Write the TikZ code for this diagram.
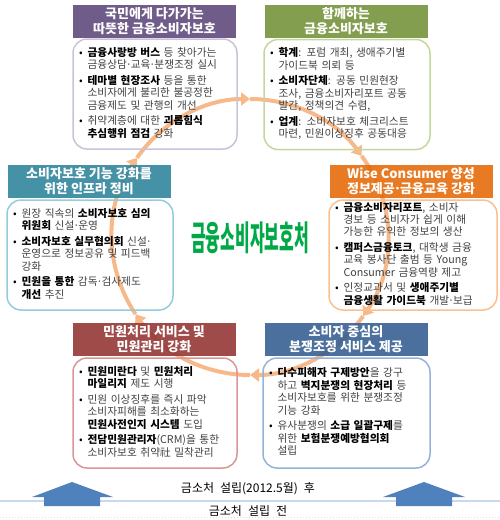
\documentclass[tikz,border=0pt]{standalone}
\usepackage{fontspec}
\usepackage{graphicx}
\usepackage{xcolor}
\setmainfont{Noto Sans CJK KR}
\usepackage{tikz}
\usetikzlibrary{arrows.meta}
\definecolor{hdpurple}{HTML}{604A7B}
\definecolor{hdgreen}{HTML}{77933C}
\definecolor{hdteal}{HTML}{31859C}
\definecolor{hdorange}{HTML}{E46C0A}
\definecolor{hdred}{HTML}{953735}
\definecolor{hdblue}{HTML}{376092}
\definecolor{lnpurple}{HTML}{CCC1DA}
\definecolor{lngreen}{HTML}{C3D69B}
\definecolor{lnteal}{HTML}{93CDDD}
\definecolor{lnorange}{HTML}{FAC090}
\definecolor{lnred}{HTML}{D99694}
\definecolor{lnblue}{HTML}{95B3D7}
\definecolor{ringorange}{HTML}{F7B989}
\definecolor{arrowblue}{HTML}{4F81BD}
\definecolor{baseblue}{HTML}{C6D9F1}
\definecolor{titlegreen}{HTML}{00A846}
\definecolor{txtgray}{HTML}{404040}
\newcommand{\kw}[1]{\textcolor{black}{\textbf{#1}}}
\newcommand{\bul}{\textcolor{black}{•}}
\newcommand{\md}{\kern-0.1em·\kern-0.1em}

\begin{document}
\begin{tikzpicture}[x=1pt, y=-1pt,
            head/.style={rectangle, fill=#1, fill opacity=0.9, text opacity=1, text=white, minimum width=163pt, minimum height=33pt, inner sep=0pt, align=center, font=\fontsize{13}{15.5}\selectfont\bfseries},
            card/.style 2 args={rectangle, rounded corners=14pt, draw=#1, line width=1.5pt, text width=#2, minimum height=110pt, inner xsep=6pt, inner ysep=0pt, text=txtgray, align=left, font=\fontsize{10.7}{11.8}\selectfont},
            ring/.style={draw=ringorange, line width=4pt, -{Triangle[length=9pt, width=13pt]}},
            era/.style={inner sep=0pt, text=black, font=\fontsize{12}{14}\selectfont}]
            \useasboundingbox (0,0) rectangle (500,520);
            \foreach \a/\b in {-145/-90, -90/-36, -36/35, 35/90, 90/146, 146/215}
                \draw[ring] (250,237) ++(\a:138) arc[start angle=\a, end angle=\b, radius=138];
            \node[text=titlegreen, inner sep=0pt, font=\fontsize{34}{34}\selectfont\bfseries] (title) at (250,238) {\scalebox{0.47}[1]{금융소비자보호처}};

            \node[head=hdpurple] (h1) at (154.5,21) {국민에게 다가가는\\따뜻한 금융소비자보호};
            \node[card={lnpurple}{152pt}] (c1) at (155,94) {\begin{tabular}{@{}l@{\hspace{5pt}}l@{}}
                \bul & \kw{금융사랑방 버스} 등 찾아가는\\
                & 금융상담\md 교육\md 분쟁조정 실시\\[3pt]
                \bul & \kw{테마별 현장조사} 등을 통한\\
                & 소비자에게 불리한 불공정한\\
                & 금융제도 및 관행의 개선\\[3pt]
                \bul & 취약계층에 대한 \kw{괴롭힘식}\\
                & \kw{추심행위 점검} 강화
            \end{tabular}};

            \node[head=hdgreen] (h2) at (346,21) {함께하는\\금융소비자보호};
            \node[card={lngreen}{154pt}] (c2) at (347,94.5) {\begin{tabular}{@{}l@{\hspace{5pt}}l@{}}
                \bul & \kw{학계}: 포럼 개최, 생애주기별\\
                & 가이드북 의뢰 등\\[3pt]
                \bul & \kw{소비자단체}: 공동 민원현장\\
                & 조사, 금융소비자리포트 공동\\
                & 발간, 정책의견 수렴,\\[3pt]
                \bul & \kw{업계}: 소비자보호 체크리스트\\
                & 마련, 민원이상징후 공동대응
            \end{tabular}};

            \node[head=hdteal] (h3) at (89,181) {소비자보호 기능 강화를\\위한 인프라 정비};
            \node[card={lnteal}{154pt}] (c3) at (90,255) {\begin{tabular}{@{}l@{\hspace{5pt}}l@{}}
                \bul & 원장 직속의 \kw{소비자보호 심의}\\
                & \kw{위원회} 신설\md 운영\\[3pt]
                \bul & \kw{소비자보호 실무협의회} 신설\md\\
                & 운영으로 정보공유 및 피드백\\
                & 강화\\[3pt]
                \bul & \kw{민원을 통한} 감독\md 검사제도\\
                & \kw{개선} 추진
            \end{tabular}};

            \node[head=hdorange] (h4) at (411,181) {Wise Consumer 양성\\정보제공\md 금융교육 강화};
            \node[card={lnorange}{156pt}] (c4) at (413,255) {\begin{tabular}{@{}l@{\hspace{5pt}}l@{}}
                \bul & \kw{금융소비자리포트}, 소비자\\
                & 경보 등 소비자가 쉽게 이해\\
                & 가능한 유익한 정보의 생산\\[3pt]
                \bul & \kw{캠퍼스금융토크}, 대학생 금융\\
                & 교육 봉사단 출범 등 Young\\
                & Consumer 금융역량 제고\\[3pt]
                \bul & 인정교과서 및 \kw{생애주기별}\\
                & \kw{금융생활 가이드북} 개발\md 보급
            \end{tabular}};

            \node[head=hdred] (h5) at (154,339) {민원처리 서비스 및\\민원관리 강화};
            \node[card={lnred}{152pt}] (c5) at (155,413) {\begin{tabular}{@{}l@{\hspace{5pt}}l@{}}
                \bul & \kw{민원미란다} 및 \kw{민원처리}\\
                & \kw{마일리지} 제도 시행\\[3pt]
                \bul & 민원 이상징후를 즉시 파악\\
                & 소비자피해를 최소화하는\\
                & \kw{민원사전인지 시스템} 도입\\[3pt]
                \bul & \kw{전담민원관리자}(CRM)을 통한\\
                & 소비자보호 취약社 밀착관리
            \end{tabular}};

            \node[head=hdblue] (h6) at (346,339) {소비자 중심의\\분쟁조정 서비스 제공};
            \node[card={lnblue}{155pt}] (c6) at (346.5,413) {\begin{tabular}{@{}l@{\hspace{5pt}}l@{}}
                \bul & \kw{다수피해자 구제방안}을 강구\\
                & 하고 \kw{벽지분쟁의 현장처리} 등\\
                & 소비자보호를 위한 분쟁조정\\
                & 기능 강화\\[3pt]
                \bul & 유사분쟁의 \kw{소급 일괄구제}를\\
                & 위한 \kw{보험분쟁예방협의회}\\
                & 설립
            \end{tabular}};

            \draw[baseblue, line width=1.5pt] (0,501) -- (500,501);
            \draw[gray!25, dotted, line width=1pt] (0,517) -- (500,517);
            \fill[arrowblue] (72,482) -- (113,497) -- (100,497) -- (100,506) -- (44,506) -- (44,497) -- (32,497) -- cycle;
            \fill[arrowblue] (424,482) -- (465,497) -- (452,497) -- (452,506) -- (396,506) -- (396,497) -- (383,497) -- cycle;
            \node[era] (after) at (248,489) {금소처\enspace 설립(2012.5월)\enspace 후};
            \node[era] (before) at (248,511) {금소처\enspace 설립\enspace 전};
        \end{tikzpicture}
\end{document}
